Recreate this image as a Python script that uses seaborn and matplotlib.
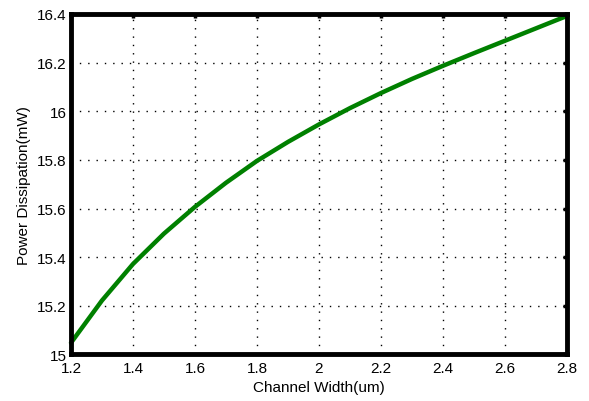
import matplotlib
matplotlib.use("Agg")
import matplotlib.pyplot as plt
import seaborn as sns
import pandas as pd

channel_width = [1.2, 1.3, 1.4, 1.5, 1.6, 1.7, 1.8, 1.9, 2.0, 2.1, 2.2, 2.3, 2.4, 2.5, 2.6, 2.7, 2.8]
power_mw = [15.048, 15.222, 15.372, 15.497, 15.607, 15.706, 15.796, 15.874, 15.946, 16.013,
            16.075, 16.133, 16.187, 16.239, 16.290, 16.341, 16.392]
x_ticks = [1.2, 1.4, 1.6, 1.8, 2.0, 2.2, 2.4, 2.6, 2.8]
x_tick_labels = ["1.2", "1.4", "1.6", "1.8", "2", "2.2", "2.4", "2.6", "2.8"]
y_ticks = [15.0, 15.2, 15.4, 15.6, 15.8, 16.0, 16.2, 16.4]
y_tick_labels = ["15", "15.2", "15.4", "15.6", "15.8", "16", "16.2", "16.4"]

df = pd.DataFrame({"w": channel_width, "p": power_mw})

sns.set_style("white")
plt.rcParams["font.family"] = ["Liberation Sans", "DejaVu Sans"]

fig = plt.figure(figsize=(5.89, 4.02), dpi=100)
ax = fig.add_axes([0.1205, 0.1157, 0.8421, 0.8470])

sns.lineplot(data=df, x="w", y="p", ax=ax, color="#008000", linewidth=3.2)
for ln in ax.get_lines():
    ln.set_solid_joinstyle("round")
    ln.set_clip_on(False)

ax.set_xlim(1.2, 2.8)
ax.set_ylim(15.0, 16.4)
ax.set_xticks(x_ticks)
ax.set_xticklabels(x_tick_labels)
ax.set_yticks(y_ticks)
ax.set_yticklabels(y_tick_labels)

ax.grid(True, color="black", linestyle=(0, (1, 5)), linewidth=1.0)
ax.set_axisbelow(True)
for s in ax.spines.values():
    s.set_visible(True)
    s.set_color("black")
    s.set_linewidth(3.5)

ax.tick_params(axis="both", direction="in", length=3, width=2.5, color="black",
               labelsize=11, labelcolor="black", top=True, right=True)
ax.tick_params(axis="x", pad=5)
ax.tick_params(axis="y", pad=3)

ax.set_xlabel("Channel Width(um)", fontsize=11, color="black", labelpad=3)
ax.set_ylabel("Power Dissipation(mW)", fontsize=11, color="black", labelpad=4.5)

fig.savefig("out.png", dpi=100)
